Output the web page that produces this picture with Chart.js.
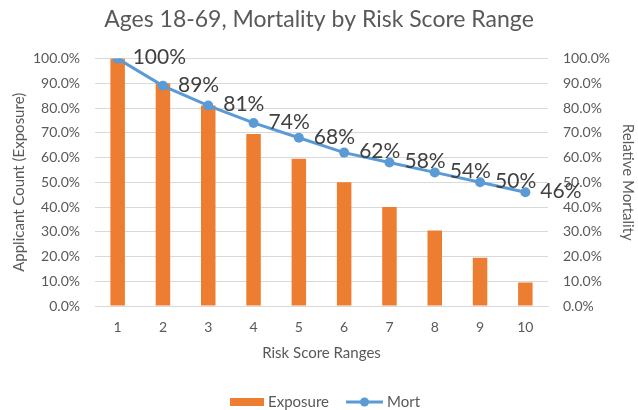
<!DOCTYPE html>
<html lang="en">
<head>
    <meta charset="UTF-8">
    <title>Ages 18-69, Mortality by Risk Score Range</title>
    <script src="https://cdn.jsdelivr.net/npm/chart.js"></script>
    <style>
        body {
            margin: 0;
            padding: 0;
            background-color: #ffffff;
        }
        .chart-box {
            width: 638px;
            height: 410px;
        }
    </style>
</head>
<body>
    <div class="chart-box">
        <canvas id="mortChart" width="638" height="410"></canvas>
    </div>

    <script>
        // Chart data
        const riskRanges = ['1', '2', '3', '4', '5', '6', '7', '8', '9', '10'];
        const exposure = [100, 90, 81, 69.5, 59.5, 50, 40, 30.5, 19.5, 9.5];
        const mort = [100, 89, 81, 74, 68, 62, 58, 54, 50, 46];
        const mortLabels = ['100%', '89%', '81%', '74%', '68%', '62%', '58%', '54%', '50%', '46%'];

        const FONT = 'Lato';
        const TEXT = '#595959';
        const GRID = '#d9d9d9';

        Chart.defaults.font.family = FONT;
        Chart.defaults.color = TEXT;

        // point labels to the right of each Mort marker
        const mortLabelPlugin = {
            id: 'mortLabels',
            afterDatasetsDraw(chart) {
                const meta = chart.getDatasetMeta(1);
                const ctx = chart.ctx;
                ctx.save();
                ctx.font = '21px ' + FONT;
                ctx.fillStyle = '#404040';
                ctx.textBaseline = 'middle';
                ctx.textAlign = 'left';
                meta.data.forEach((pt, i) => {
                    ctx.fillText(mortLabels[i], pt.x + 15, pt.y - 1);
                });
                ctx.restore();
            }
        };

        // legend drawn the way the spreadsheet does it
        const legendPlugin = {
            id: 'sheetLegend',
            afterDraw(chart) {
                const ctx = chart.ctx;
                const ds = chart.data.datasets;
                const y = 402;
                ctx.save();
                ctx.font = '15px ' + FONT;
                ctx.textBaseline = 'middle';
                ctx.fillStyle = ds[0].backgroundColor;
                ctx.fillRect(230, y - 4, 34, 8);
                ctx.fillStyle = TEXT;
                ctx.fillText(ds[0].label, 268, y);

                ctx.strokeStyle = ds[1].borderColor;
                ctx.lineWidth = 3;
                ctx.beginPath();
                ctx.moveTo(346, y);
                ctx.lineTo(383, y);
                ctx.stroke();
                ctx.fillStyle = ds[1].borderColor;
                ctx.beginPath();
                ctx.arc(364.5, y, 4.5, 0, Math.PI * 2);
                ctx.fill();
                ctx.fillStyle = TEXT;
                ctx.fillText(ds[1].label, 387, y);
                ctx.restore();
            }
        };

        const pct = (v) => v.toFixed(1) + '%';

        const ctx = document.getElementById('mortChart').getContext('2d');
        const mortChart = new Chart(ctx, {
            type: 'bar',
            data: {
                labels: riskRanges,
                datasets: [{
                    label: 'Exposure',
                    data: exposure,
                    backgroundColor: '#ED7D31',
                    barPercentage: 0.32,
                    categoryPercentage: 1,
                    yAxisID: 'y',
                    order: 2
                }, {
                    type: 'line',
                    label: 'Mort',
                    data: mort,
                    borderColor: '#5B9BD5',
                    backgroundColor: '#5B9BD5',
                    borderWidth: 3,
                    pointRadius: 5,
                    pointHoverRadius: 5,
                    pointBackgroundColor: '#5B9BD5',
                    pointBorderWidth: 0,
                    tension: 0,
                    fill: false,
                    yAxisID: 'y1',
                    order: 1
                }]
            },
            options: {
                responsive: false,
                animation: false,
                layout: {
                    padding: { left: 0, right: 0, top: 0, bottom: 44 }
                },
                plugins: {
                    legend: { display: false },
                    tooltip: { enabled: false },
                    title: {
                        display: true,
                        text: 'Ages 18-69, Mortality by Risk Score Range',
                        color: TEXT,
                        font: { size: 23, weight: 'normal' },
                        padding: { top: 6, bottom: 25 }
                    }
                },
                scales: {
                    x: {
                        grid: { display: false, drawTicks: false },
                        border: { color: GRID, width: 1 },
                        ticks: { padding: 13, font: { size: 14 }, color: TEXT },
                        title: {
                            display: true,
                            text: 'Risk Score Ranges',
                            font: { size: 15 },
                            color: TEXT,
                            padding: { top: 0, bottom: 4 }
                        },
                        afterFit: (scale) => { scale.height = 60; }
                    },
                    y: {
                        position: 'left',
                        min: 0,
                        max: 100,
                        ticks: { stepSize: 10, padding: 15, font: { size: 14 }, color: TEXT, callback: pct },
                        grid: { color: GRID, drawTicks: false },
                        border: { display: false },
                        title: {
                            display: true,
                            text: 'Applicant Count (Exposure)',
                            font: { size: 15 },
                            color: TEXT,
                            padding: { top: 10, bottom: 0 }
                        },
                        afterFit: (scale) => { scale.width = 95; }
                    },
                    y1: {
                        position: 'right',
                        min: 0,
                        max: 100,
                        ticks: { stepSize: 10, padding: 15, font: { size: 14 }, color: TEXT, callback: pct },
                        grid: { display: false, drawTicks: false },
                        border: { display: false },
                        title: {
                            display: true,
                            text: 'Relative Mortality',
                            font: { size: 15 },
                            color: TEXT,
                            padding: { top: 1, bottom: 0 }
                        },
                        afterFit: (scale) => { scale.width = 90; }
                    }
                }
            },
            plugins: [mortLabelPlugin, legendPlugin]
        });
    </script>
</body>
</html>
